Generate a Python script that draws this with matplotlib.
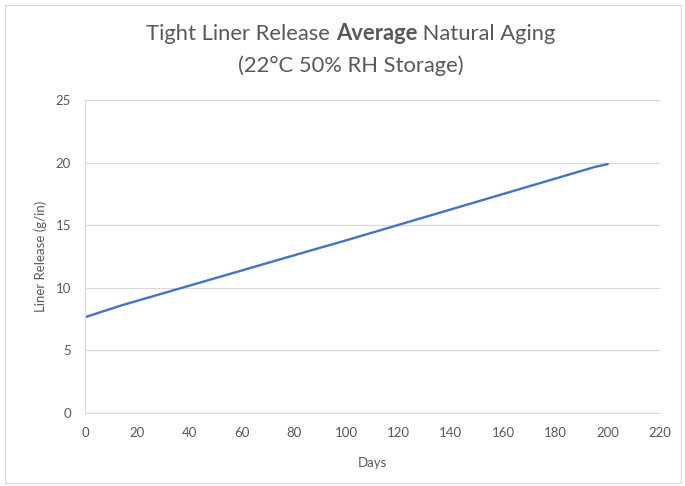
import matplotlib
matplotlib.use("Agg")
import matplotlib.pyplot as plt
from matplotlib.patches import Rectangle

plt.rcParams['font.family'] = ['Lato', 'DejaVu Sans']

days = [0, 14, 90, 96, 195, 200]
release = [7.65, 8.6, 13.2, 13.55, 19.65, 19.88]
x_ticks = list(range(0, 221, 20))
y_ticks = list(range(0, 26, 5))

fig = plt.figure(figsize=(6.85, 4.86), dpi=100)
ax = fig.add_axes([85/685, 1-413/486, 575/685, 313/486])

ax.plot(days, release, color='#4472C4', linewidth=1.7, solid_capstyle='round')
ax.set_xlim(0, 220)
ax.set_ylim(0, 25)
ax.set_xticks(x_ticks)
ax.set_yticks(y_ticks)
ax.grid(axis='y', color='#D9D9D9', linewidth=0.8)
ax.set_axisbelow(True)
for s in ['top', 'right']:
    ax.spines[s].set_visible(False)
for s in ['left', 'bottom']:
    ax.spines[s].set_color('#D9D9D9')
    ax.spines[s].set_linewidth(0.8)
ax.tick_params(length=0, colors='#595959', labelsize=9.5, pad=10)
ax.set_xlabel('Days', color='#595959', fontsize=9.5, labelpad=13)
ax.set_ylabel('Liner Release (g/in)', color='#595959', fontsize=9.5, labelpad=6)

# figure border
fig.add_artist(Rectangle((5/685, 3/486), 676/685, 478/486, transform=fig.transFigure,
                         fill=False, edgecolor='#D9D9D9', linewidth=0.8))

# title with bold word
fig.canvas.draw()
r = fig.canvas.get_renderer()
parts = [('Tight Liner Release ', 'normal'), ('Average', 'bold'), (' Natural Aging', 'normal')]
fs = 15.8
texts = []
widths = []
for s, w in parts:
    t = fig.text(0, 0, s, fontsize=fs, fontweight=w, color='#595959', va='center', ha='left')
    bb = t.get_window_extent(renderer=r)
    texts.append(t)
    widths.append(bb.width)
total = sum(widths)
cx = 351
x0 = cx - total/2
for t, w in zip(texts, widths):
    t.set_position((x0/685, 1 - 34/486))
    x0 += w
fig.text(351/685, 1 - 66/486, '(22°C 50% RH Storage)', fontsize=fs, color='#595959',
         ha='center', va='center')

fig.savefig('out.png', dpi=100)
